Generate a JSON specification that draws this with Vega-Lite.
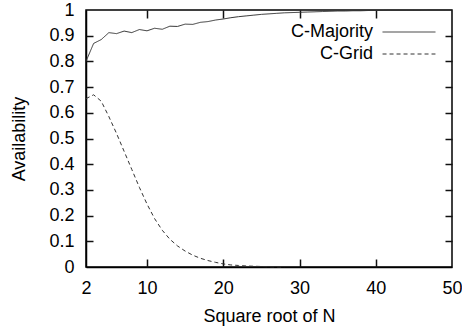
{
  "$schema": "https://vega.github.io/schema/vega-lite/v6.json",
  "width": 366,
  "height": 257,
  "autosize": {"type": "none"},
  "padding": {"left": 86, "top": 10, "right": 10, "bottom": 60},
  "background": "white",
  "config": {
    "font": "Liberation Sans",
    "view": {"stroke": "black", "strokeWidth": 1.5},
    "axis": {
      "grid": false,
      "domainColor": "black",
      "domainWidth": 1.5,
      "tickColor": "black",
      "tickWidth": 1.5,
      "labelColor": "black",
      "labelFontSize": 18,
      "titleFontSize": 18,
      "titleFontWeight": "normal",
      "titleColor": "black"
    }
  },
  "data": {
    "values": [
      {"series": "C-Majority", "n": 2, "a": 0.80},
      {"series": "C-Majority", "n": 3, "a": 0.87},
      {"series": "C-Majority", "n": 4, "a": 0.885},
      {"series": "C-Majority", "n": 5, "a": 0.912},
      {"series": "C-Majority", "n": 6, "a": 0.908},
      {"series": "C-Majority", "n": 7, "a": 0.918},
      {"series": "C-Majority", "n": 8, "a": 0.912},
      {"series": "C-Majority", "n": 9, "a": 0.924},
      {"series": "C-Majority", "n": 10, "a": 0.919},
      {"series": "C-Majority", "n": 11, "a": 0.929},
      {"series": "C-Majority", "n": 12, "a": 0.925},
      {"series": "C-Majority", "n": 13, "a": 0.937},
      {"series": "C-Majority", "n": 14, "a": 0.936},
      {"series": "C-Majority", "n": 15, "a": 0.945},
      {"series": "C-Majority", "n": 16, "a": 0.944},
      {"series": "C-Majority", "n": 17, "a": 0.952},
      {"series": "C-Majority", "n": 18, "a": 0.955},
      {"series": "C-Majority", "n": 19, "a": 0.961},
      {"series": "C-Majority", "n": 20, "a": 0.965},
      {"series": "C-Majority", "n": 21, "a": 0.970},
      {"series": "C-Majority", "n": 22, "a": 0.974},
      {"series": "C-Majority", "n": 23, "a": 0.977},
      {"series": "C-Majority", "n": 24, "a": 0.980},
      {"series": "C-Majority", "n": 25, "a": 0.983},
      {"series": "C-Majority", "n": 26, "a": 0.985},
      {"series": "C-Majority", "n": 27, "a": 0.987},
      {"series": "C-Majority", "n": 28, "a": 0.989},
      {"series": "C-Majority", "n": 29, "a": 0.990},
      {"series": "C-Majority", "n": 30, "a": 0.991},
      {"series": "C-Majority", "n": 31, "a": 0.992},
      {"series": "C-Majority", "n": 32, "a": 0.993},
      {"series": "C-Majority", "n": 33, "a": 0.994},
      {"series": "C-Majority", "n": 34, "a": 0.995},
      {"series": "C-Majority", "n": 35, "a": 0.996},
      {"series": "C-Majority", "n": 36, "a": 0.996},
      {"series": "C-Majority", "n": 37, "a": 0.997},
      {"series": "C-Majority", "n": 38, "a": 0.997},
      {"series": "C-Majority", "n": 39, "a": 0.998},
      {"series": "C-Majority", "n": 40, "a": 0.998},
      {"series": "C-Majority", "n": 41, "a": 0.998},
      {"series": "C-Majority", "n": 42, "a": 0.999},
      {"series": "C-Majority", "n": 43, "a": 0.999},
      {"series": "C-Majority", "n": 44, "a": 0.999},
      {"series": "C-Majority", "n": 45, "a": 0.999},
      {"series": "C-Majority", "n": 46, "a": 0.999},
      {"series": "C-Majority", "n": 47, "a": 1.0},
      {"series": "C-Majority", "n": 48, "a": 1.0},
      {"series": "C-Majority", "n": 49, "a": 1.0},
      {"series": "C-Majority", "n": 50, "a": 1.0},
      {"series": "C-Grid", "n": 2, "a": 0.655},
      {"series": "C-Grid", "n": 3, "a": 0.670},
      {"series": "C-Grid", "n": 4, "a": 0.645},
      {"series": "C-Grid", "n": 5, "a": 0.585},
      {"series": "C-Grid", "n": 6, "a": 0.52},
      {"series": "C-Grid", "n": 7, "a": 0.45},
      {"series": "C-Grid", "n": 8, "a": 0.38},
      {"series": "C-Grid", "n": 9, "a": 0.31},
      {"series": "C-Grid", "n": 10, "a": 0.245},
      {"series": "C-Grid", "n": 11, "a": 0.188},
      {"series": "C-Grid", "n": 12, "a": 0.143},
      {"series": "C-Grid", "n": 13, "a": 0.108},
      {"series": "C-Grid", "n": 14, "a": 0.082},
      {"series": "C-Grid", "n": 15, "a": 0.062},
      {"series": "C-Grid", "n": 16, "a": 0.046},
      {"series": "C-Grid", "n": 17, "a": 0.034},
      {"series": "C-Grid", "n": 18, "a": 0.025},
      {"series": "C-Grid", "n": 19, "a": 0.018},
      {"series": "C-Grid", "n": 20, "a": 0.012},
      {"series": "C-Grid", "n": 21, "a": 0.008},
      {"series": "C-Grid", "n": 22, "a": 0.006},
      {"series": "C-Grid", "n": 23, "a": 0.004},
      {"series": "C-Grid", "n": 24, "a": 0.003},
      {"series": "C-Grid", "n": 25, "a": 0.002},
      {"series": "C-Grid", "n": 26, "a": 0.001},
      {"series": "C-Grid", "n": 27, "a": 0.0005},
      {"series": "C-Grid", "n": 28, "a": 0}
    ]
  },
  "layer": [
    {
      "mark": {"type": "line", "color": "#333", "strokeWidth": 1},
      "encoding": {
        "x": {
          "field": "n", "type": "quantitative",
          "scale": {"domain": [2, 50], "nice": false},
          "axis": {"orient": "bottom", "values": [2, 10, 20, 30, 40, 50], "tickSize": 0, "labelPadding": 12, "title": "Square root of N", "titlePadding": 10, "labelFlush": false}
        },
        "y": {
          "field": "a", "type": "quantitative",
          "scale": {"domain": [0, 1], "nice": false},
          "axis": {"orient": "left", "values": [0, 0.1, 0.2, 0.3, 0.4, 0.5, 0.6, 0.7, 0.8, 0.9, 1], "format": "~g", "tickSize": 0, "labelPadding": 12, "title": "Availability", "titlePadding": 20, "labelFlush": false}
        },
        "strokeDash": {
          "field": "series", "type": "nominal",
          "scale": {"domain": ["C-Majority", "C-Grid"], "range": [[1, 0], [4, 3]]},
          "legend": {
            "orient": "none", "legendX": 314, "legendY": 13,
            "title": null, "symbolType": "M-5,0H5", "symbolSize": 112,
            "symbolStrokeColor": "#333", "symbolStrokeWidth": 1,
            "labelAlign": "right", "labelOffset": -45, "labelFontSize": 18,
            "labelColor": "black", "rowPadding": 4
          }
        }
      }
    },
    {
      "mark": {"type": "point", "opacity": 0},
      "encoding": {
        "x": {
          "field": "n", "type": "quantitative",
          "scale": {"domain": [2, 50], "nice": false},
          "axis": {"orient": "top", "offset": -257, "values": [10, 20, 30, 40], "tickSize": 8, "tickColor": "#111111", "labels": false, "domain": false, "title": null}
        },
        "y": {
          "field": "a", "type": "quantitative",
          "scale": {"domain": [0, 1], "nice": false},
          "axis": {"orient": "right", "offset": -366, "values": [0.1, 0.2, 0.3, 0.4, 0.5, 0.6, 0.7, 0.8, 0.9], "tickSize": 7, "tickColor": "#111111", "labels": false, "domain": false, "title": null}
        }
      }
    },
    {
      "mark": {"type": "point", "opacity": 0},
      "encoding": {
        "x": {
          "field": "n", "type": "quantitative",
          "scale": {"domain": [2, 50], "nice": false},
          "axis": {"orient": "bottom", "offset": -257, "values": [10, 20, 30, 40], "tickSize": 8, "tickColor": "#111111", "labels": false, "domain": false, "title": null}
        },
        "y": {
          "field": "a", "type": "quantitative",
          "scale": {"domain": [0, 1], "nice": false},
          "axis": {"orient": "left", "offset": -366, "values": [0.1, 0.2, 0.3, 0.4, 0.5, 0.6, 0.7, 0.8, 0.9], "tickSize": 7, "tickColor": "#111111", "labels": false, "domain": false, "title": null}
        }
      }
    }
  ],
  "resolve": {"scale": {"x": "independent", "y": "independent"}}
}
